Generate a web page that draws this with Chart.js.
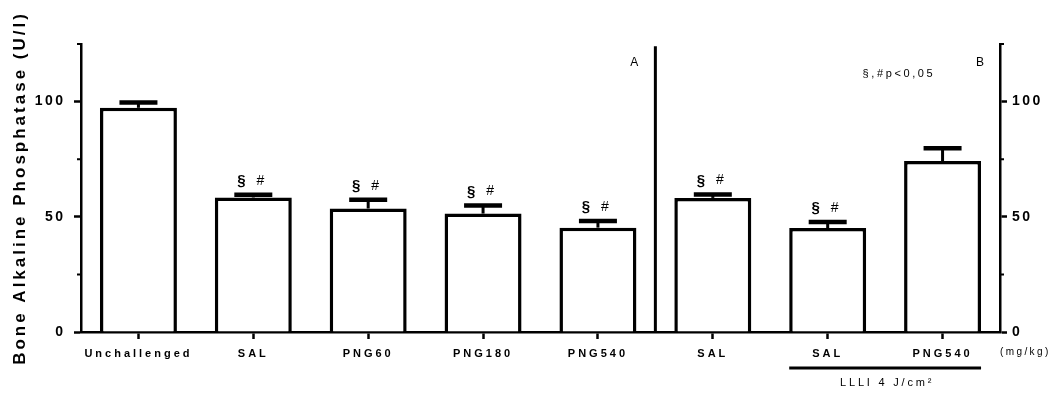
<!DOCTYPE html>
<html>
<head>
<meta charset="utf-8">
<script src="https://cdn.jsdelivr.net/npm/chart.js@4.4.1/dist/chart.umd.min.js"></script>
<style>
  html, body { margin: 0; padding: 0; background: #fff; }
  #chart { display: block; }
</style>
</head>
<body>
<canvas id="chart" width="1054" height="398"></canvas>
<script>
// Data
const categories = ['Unchallenged', 'SAL', 'PNG60', 'PNG180', 'PNG540', 'SAL', 'SAL', 'PNG540'];
const means = [97.3, 58.4, 53.6, 51.4, 45.3, 58.2, 45.1, 74.2];
const sems = [2.3, 1.2, 3.8, 3.5, 2.9, 1.5, 2.6, 5.5];
const significant = [false, true, true, true, true, true, true, false];
const yTicks = [0, 50, 100];
const yMinorTicks = [25, 75, 125];
const yTitle = 'Bone Alkaline Phosphatase (U/l)';
const panelLabels = ['A', 'B'];
const pNote = '§,#p<0,05';
const unitNote = '(mg/kg)';
const laserLabel = 'LLLI 4 J/cm²';
const laserGroup = [6, 7];
const panelSplit = 4; // last index of panel A

const FONT = "'Liberation Sans', Arial, sans-serif";
const black = '#000';

// letter spacing per scale (the figure uses wide tracking)
const spacing = {
  x: { labels: 3 },
  y: { labels: 2.5, title: 3 },
  y1: { labels: 2.5 }
};

const spacedText = {
  id: 'spacedText',
  beforeDraw(chart) {
    Object.keys(spacing).forEach(id => {
      const scale = chart.scales[id];
      if (!scale || scale._spaced) return;
      scale._spaced = true;
      ['labels', 'title'].forEach(part => {
        const sp = spacing[id][part];
        if (!sp) return;
        const fn = part === 'labels' ? 'drawLabels' : 'drawTitle';
        const orig = scale[fn];
        scale[fn] = function (area) {
          const c = this.ctx;
          c.save();
          c.letterSpacing = sp + 'px';
          orig.call(this, area);
          c.restore();
        };
      });
    });
  }
};

const extras = {
  id: 'extras',
  afterDatasetsDraw(chart) {
    const ctx = chart.ctx;
    const x = chart.scales.x;
    const y = chart.scales.y;
    const area = chart.chartArea;
    const meta = chart.getDatasetMeta(0);
    ctx.save();
    ctx.strokeStyle = black;
    ctx.fillStyle = black;

    // error bars (upper only) and significance marks
    means.forEach((m, i) => {
      const px = x.getPixelForValue(i);
      const top = y.getPixelForValue(m);
      const cap = y.getPixelForValue(m + sems[i]);
      ctx.lineWidth = 3;
      ctx.beginPath();
      ctx.moveTo(px, top);
      ctx.lineTo(px, cap);
      ctx.stroke();
      ctx.lineWidth = 4.5;
      ctx.beginPath();
      ctx.moveTo(px - 19, cap);
      ctx.lineTo(px + 19, cap);
      ctx.stroke();
      if (significant[i]) {
        ctx.textAlign = 'center';
        ctx.textBaseline = 'middle';
        ctx.font = 'bold 15px ' + FONT;
        ctx.fillText('§', px - 12, cap - 14);
        ctx.font = '14px ' + FONT;
        ctx.fillText('#', px + 7, cap - 14);
      }
    });

    // minor ticks on both value axes
    ctx.lineWidth = 2;
    yMinorTicks.forEach(v => {
      const py = y.getPixelForValue(v);
      ctx.beginPath();
      ctx.moveTo(area.left - 4, py);
      ctx.lineTo(area.left, py);
      ctx.moveTo(area.right, py);
      ctx.lineTo(area.right + 4, py);
      ctx.stroke();
    });

    // divider between panel A and B
    const dx = (x.getPixelForValue(panelSplit) + x.getPixelForValue(panelSplit + 1)) / 2;
    ctx.lineWidth = 3;
    ctx.beginPath();
    ctx.moveTo(dx, y.getPixelForValue(124));
    ctx.lineTo(dx, area.bottom);
    ctx.stroke();

    // panel letters and note
    ctx.textBaseline = 'middle';
    ctx.textAlign = 'center';
    ctx.font = '12px ' + FONT;
    ctx.fillText(panelLabels[0], dx - 21, y.getPixelForValue(117));
    ctx.fillText(panelLabels[1], area.right - 20, y.getPixelForValue(117));
    ctx.font = '11px ' + FONT;
    ctx.letterSpacing = '2.6px';
    ctx.fillText(pNote, x.getPixelForValue(6.62), y.getPixelForValue(112));

    // unit note next to the category axis
    ctx.font = '10px ' + FONT;
    ctx.letterSpacing = '2.4px';
    ctx.textAlign = 'left';
    ctx.fillText(unitNote, area.right, area.bottom + 20);

    // laser group bracket
    const b0 = meta.data[laserGroup[0]];
    const b1 = meta.data[laserGroup[1]];
    const lx0 = b0.x - b0.width / 2;
    const lx1 = b1.x + b1.width / 2;
    ctx.lineWidth = 3;
    ctx.beginPath();
    ctx.moveTo(lx0, area.bottom + 36);
    ctx.lineTo(lx1, area.bottom + 36);
    ctx.stroke();
    ctx.textAlign = 'center';
    ctx.font = '11px ' + FONT;
    ctx.letterSpacing = '2.8px';
    ctx.fillText(laserLabel, (lx0 + lx1) / 2 + 2, area.bottom + 51);
    ctx.restore();
  }
};

const valueAxis = (position, width, pad) => ({
  type: 'linear',
  position,
  min: 0,
  max: 125,
  afterBuildTicks: s => { s.ticks = yTicks.map(v => ({ value: v })); },
  afterFit: s => { s.width = width; },
  grid: { drawOnChartArea: false, tickLength: 7, tickWidth: 2.5, tickColor: black },
  border: { display: true, color: black, width: 2.5 },
  ticks: { color: black, padding: pad, font: { family: FONT, size: 14, weight: 'bold' } }
});

const yLeft = valueAxis('left', 81, 8.5);
yLeft.title = {
  display: true,
  text: yTitle,
  color: black,
  padding: { top: 10, bottom: 0 },
  font: { family: FONT, size: 17, weight: 'bold' }
};
const yRight = valueAxis('right', 54, 5);

new Chart(document.getElementById('chart'), {
  type: 'bar',
  data: {
    labels: categories,
    datasets: [{
      data: means,
      backgroundColor: '#fff',
      borderColor: black,
      borderWidth: 3.5,
      barPercentage: 0.67,
      categoryPercentage: 1
    }]
  },
  options: {
    responsive: false,
    animation: false,
    layout: { padding: { top: 44, left: 0, right: 0, bottom: 0 } },
    plugins: { legend: { display: false }, tooltip: { enabled: false } },
    scales: {
      x: {
        afterFit: s => { s.height = 66; },
        grid: { drawOnChartArea: false, offset: false, tickLength: 7, tickWidth: 2.5, tickColor: black },
        border: { display: true, color: black, width: 2.5 },
        ticks: {
          color: black,
          padding: 8,
          maxRotation: 0,
          autoSkip: false,
          font: { family: FONT, size: 11, weight: 'bold' }
        }
      },
      y: yLeft,
      y1: yRight
    }
  },
  plugins: [spacedText, extras]
});
</script>
</body>
</html>
